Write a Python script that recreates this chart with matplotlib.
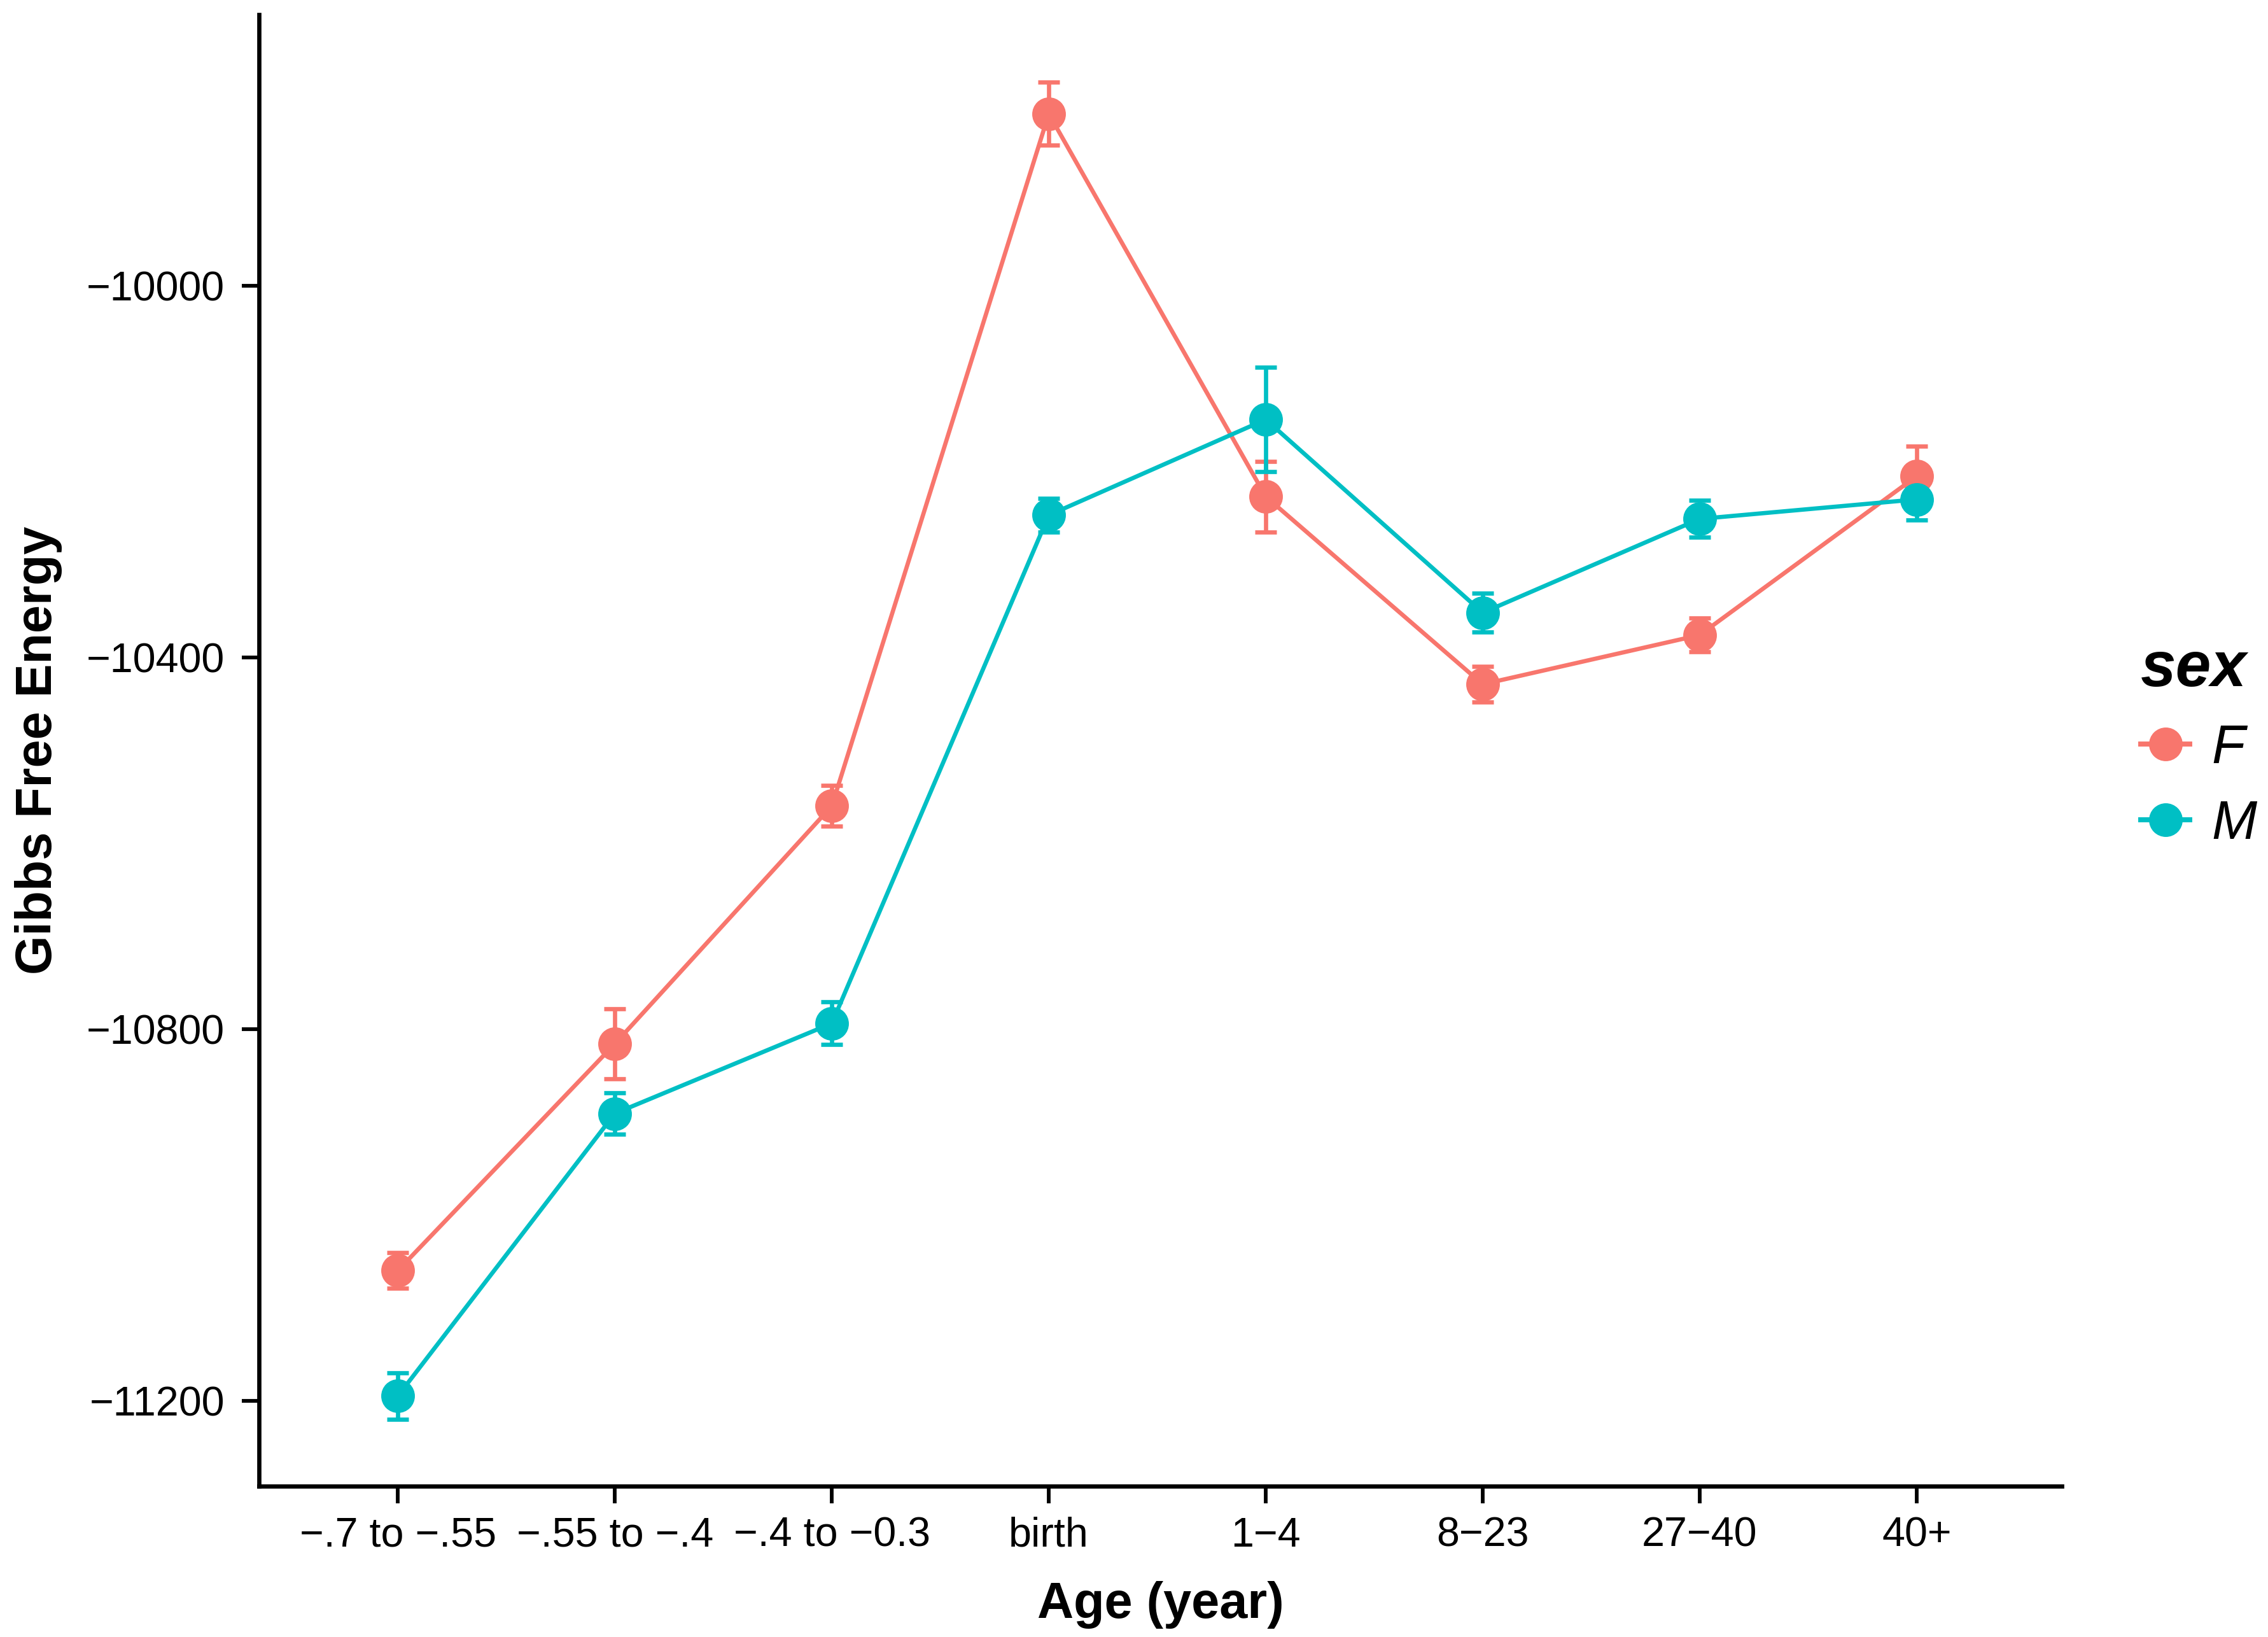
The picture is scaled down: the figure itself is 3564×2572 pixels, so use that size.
import numpy as np
import matplotlib
matplotlib.use('Agg')
import matplotlib.pyplot as plt
from matplotlib.lines import Line2D

plt.rcParams['font.family'] = ['Liberation Sans', 'DejaVu Sans']

ages = ['\u2212.7 to \u2212.55', '\u2212.55 to \u2212.4', '\u2212.4 to \u22120.3', 'birth',
        '1\u22124', '8\u221223', '27\u221240', '40+']

f_mean = [-11060, -10816, -10560, -9815, -10227, -10429, -10376, -10205]
f_err = [19, 38, 22, 34, 38, 19, 18, 32]

m_mean = [-11195, -10891, -10794, -10247, -10144, -10352, -10251, -10230]
m_err = [25, 22, 23, 18, 56, 21, 20, 22]

col_f = '#F8766D'
col_m = '#00BFC4'

fig = plt.figure(figsize=(3564 / 300, 2572 / 300), dpi=300)
ax = fig.add_axes([0.1142, 0.0922, 0.795, 0.899])

x = np.arange(len(ages))
for mean, err, col in [(f_mean, f_err, col_f), (m_mean, m_err, col_m)]:
    ax.plot(x, mean, color=col, lw=1.6, zorder=2)
    ax.errorbar(x, mean, yerr=err, fmt='none', ecolor=col, elinewidth=1.6,
                capsize=4.1, capthick=1.6, zorder=3)
    ax.plot(x, mean, 'o', color=col, ms=11.7, zorder=4)

ax.set_xlim(-0.64, 7.67)
ax.set_ylim(-11292, -9708)
ax.set_xticks(x)
ax.set_xticklabels(ages)
ax.set_yticks([-10000, -10400, -10800, -11200])
ax.set_yticklabels(['\u221210000', '\u221210400', '\u221210800', '\u221211200'])

for s in ['top', 'right']:
    ax.spines[s].set_visible(False)
for s in ['left', 'bottom']:
    ax.spines[s].set_linewidth(1.6)
ax.tick_params(axis='both', width=1.4, length=6.5, labelsize=15.5, color='black')
ax.tick_params(axis='x', pad=5)
ax.tick_params(axis='y', pad=6.5)

ax.set_xlabel('Age (year)', fontsize=19, fontweight='bold', labelpad=10)
ax.set_ylabel('Gibbs Free Energy', fontsize=19, fontweight='bold', labelpad=9)

handles = [Line2D([0], [0], color=col_f, lw=1.9, marker='o', ms=11.7),
           Line2D([0], [0], color=col_m, lw=1.9, marker='o', ms=11.7)]
leg = ax.legend(handles, ['F', 'M'], title='sex', loc='center left',
                bbox_to_anchor=(0.932, 0.545), bbox_transform=fig.transFigure,
                frameon=False, borderpad=0, handlelength=0.9, handletextpad=0.4,
                labelspacing=0.45, prop={'size': 20.5, 'style': 'italic'})
leg.get_title().set_fontsize(24)
leg.get_title().set_fontweight('bold')
leg.get_title().set_fontstyle('italic')
leg._legend_box.align = 'left'

fig.savefig('out.png', dpi=300)
